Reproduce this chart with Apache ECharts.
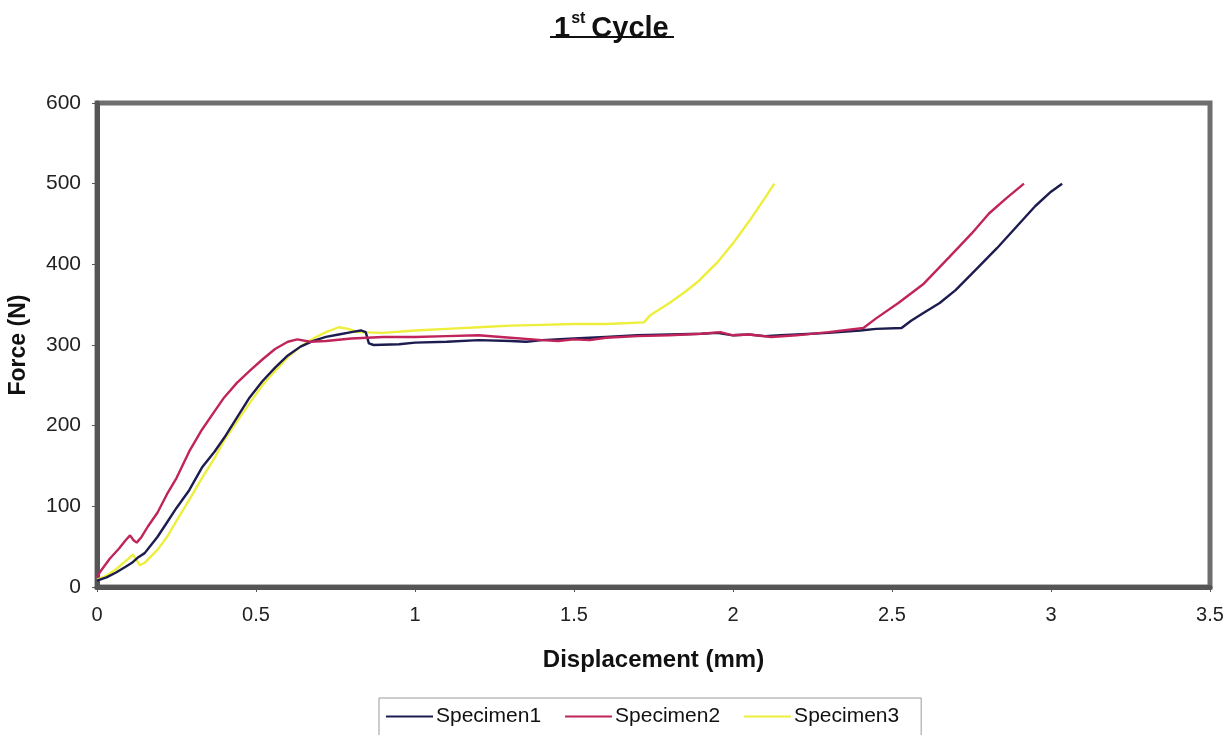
<!DOCTYPE html>
<html>
<head>
<meta charset="utf-8">
<script src="https://cdn.jsdelivr.net/npm/echarts@6/dist/echarts.min.js"></script>
<style>
  html, body { margin: 0; padding: 0; background: #fff; }
  #chart { width: 1231px; height: 735px; }
</style>
</head>
<body>
<div id="chart"></div>
<script>
// Force vs displacement, first loading cycle, three specimens
const seriesNames = ['Specimen1', 'Specimen2', 'Specimen3'];

const specimen1 = [
  [0, 8], [0.03, 12], [0.06, 18], [0.09, 25], [0.11, 30], [0.13, 37], [0.15, 42], [0.17, 52],
  [0.19, 62], [0.22, 80], [0.25, 98], [0.29, 120], [0.33, 148], [0.37, 168], [0.40, 185],
  [0.44, 210], [0.48, 235], [0.52, 255], [0.56, 272], [0.60, 287], [0.64, 298], [0.68, 305],
  [0.72, 310], [0.76, 313], [0.80, 316], [0.83, 318], [0.845, 316], [0.855, 302], [0.87, 300],
  [0.95, 301], [1.0, 303], [1.1, 304], [1.2, 306], [1.3, 305], [1.35, 304], [1.4, 306],
  [1.5, 308], [1.6, 310], [1.7, 312], [1.8, 313], [1.9, 314], [1.95, 315], [2.0, 312],
  [2.05, 313], [2.1, 311], [2.15, 312], [2.2, 313], [2.3, 315], [2.4, 318], [2.45, 320],
  [2.53, 321], [2.56, 330], [2.6, 340], [2.65, 352], [2.7, 368], [2.77, 396], [2.83, 420],
  [2.89, 446], [2.95, 472], [3.0, 490], [3.035, 500]
];

const specimen2 = [
  [0, 12], [0.01, 19], [0.04, 35], [0.07, 48], [0.09, 58], [0.104, 64], [0.115, 58],
  [0.125, 55], [0.14, 62], [0.16, 75], [0.19, 92], [0.22, 115], [0.25, 135], [0.29, 168],
  [0.33, 195], [0.37, 218], [0.40, 235], [0.44, 253], [0.48, 268], [0.52, 282], [0.56, 295],
  [0.60, 304], [0.63, 307], [0.67, 304], [0.72, 305], [0.8, 308], [0.9, 310], [1.0, 310],
  [1.1, 311], [1.2, 312], [1.3, 309], [1.4, 306], [1.45, 305], [1.5, 307], [1.55, 306],
  [1.6, 309], [1.7, 311], [1.8, 312], [1.9, 314], [1.96, 316], [2.0, 312], [2.05, 313],
  [2.12, 310], [2.2, 312], [2.3, 316], [2.41, 321], [2.45, 333], [2.52, 352], [2.6, 376],
  [2.68, 409], [2.75, 438], [2.805, 463], [2.86, 482], [2.915, 500]
];

const specimen3 = [
  [0, 9], [0.03, 14], [0.06, 22], [0.09, 32], [0.113, 40], [0.125, 33], [0.135, 27],
  [0.15, 30], [0.17, 38], [0.19, 46], [0.22, 62], [0.25, 82], [0.29, 108], [0.33, 135],
  [0.37, 160], [0.40, 182], [0.44, 205], [0.48, 228], [0.52, 250], [0.56, 268], [0.60, 285],
  [0.64, 298], [0.68, 308], [0.72, 316], [0.76, 322], [0.79, 320], [0.82, 316], [0.9, 315],
  [1.0, 318], [1.1, 320], [1.2, 322], [1.3, 324], [1.4, 325], [1.5, 326], [1.6, 326],
  [1.72, 328], [1.74, 337], [1.8, 352], [1.85, 366], [1.894, 380], [1.95, 402], [2.0, 426],
  [2.05, 453], [2.1, 482], [2.13, 500]
];

const seriesColors = ['#1c1c50', '#c0245a', '#eeee3c'];
const xTicks = { min: 0, max: 3.5, interval: 0.5 };
const yTicks = { min: 0, max: 600, interval: 100 };

const chart = echarts.init(document.getElementById('chart'), null, { renderer: 'canvas' });
const font = 'Liberation Sans, Arial, sans-serif';

chart.setOption({
  animation: false,
  backgroundColor: '#ffffff',
  title: {
    text: '{n|1}{s|st}{n|Cycle}',
    left: 549,
    top: 6,
    textStyle: {
      rich: {
        n: { fontFamily: font, fontWeight: 'bold', fontSize: 29, color: '#111', verticalAlign: 'bottom', lineHeight: 32 },
        s: { fontFamily: font, fontWeight: 'bold', fontSize: 16, color: '#111', verticalAlign: 'top', lineHeight: 32, padding: [0, 6, 14, 1] }
      }
    }
  },
  graphic: [{
    type: 'line',
    shape: { x1: 550, y1: 37, x2: 674, y2: 37 },
    style: { stroke: '#111', lineWidth: 2 }
  }],
  legend: {
    data: seriesNames,
    bottom: -6,
    left: 379,
    icon: 'rect',
    itemWidth: 47,
    itemHeight: 2,
    itemGap: 24,
    padding: [8, 22, 14, 7],
    borderColor: '#9a9a9a',
    borderWidth: 1,
    textStyle: { fontFamily: font, fontSize: 21, color: '#111', padding: [0, 0, 0, -2] }
  },
  grid: {
    left: 97, right: 21, top: 103, bottom: 148,
    outerBoundsMode: 'none',
    containLabel: false,
    show: true,
    borderColor: '#6e6e6e',
    borderWidth: 5,
    backgroundColor: '#ffffff'
  },
  xAxis: {
    type: 'value',
    min: xTicks.min, max: xTicks.max, interval: xTicks.interval,
    name: 'Displacement (mm)',
    nameLocation: 'middle',
    nameGap: 61,
    nameTextStyle: { fontFamily: font, fontWeight: 'bold', fontSize: 24, color: '#111' },
    axisLine: { show: true, lineStyle: { color: '#555', width: 5 } },
    axisTick: { show: true, length: 5, lineStyle: { color: '#555' } },
    axisLabel: { fontFamily: font, fontSize: 20, color: '#222', margin: 18 },
    splitLine: { show: false }
  },
  yAxis: {
    type: 'value',
    min: yTicks.min, max: yTicks.max, interval: yTicks.interval,
    name: 'Force (N)',
    nameLocation: 'middle',
    nameGap: 67,
    nameTextStyle: { fontFamily: font, fontWeight: 'bold', fontSize: 23, color: '#111' },
    axisLine: { show: true, lineStyle: { color: '#555', width: 5 } },
    axisTick: { show: true, length: 5, lineStyle: { color: '#555' } },
    axisLabel: { fontFamily: font, fontSize: 21, color: '#222', margin: 16 },
    splitLine: { show: false }
  },
  series: [
    { name: seriesNames[0], type: 'line', data: specimen1, symbol: 'none', color: seriesColors[0], lineStyle: { width: 2.4 }, z: 3 },
    { name: seriesNames[1], type: 'line', data: specimen2, symbol: 'none', color: seriesColors[1], lineStyle: { width: 2.4 }, z: 4 },
    { name: seriesNames[2], type: 'line', data: specimen3, symbol: 'none', color: seriesColors[2], lineStyle: { width: 2.4 }, z: 2 }
  ]
});
</script>
</body>
</html>
